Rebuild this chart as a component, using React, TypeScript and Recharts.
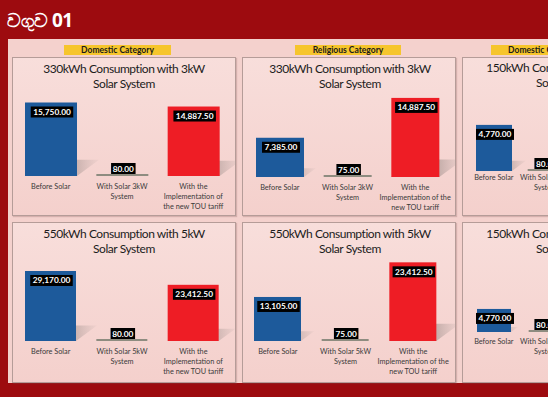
import React from 'react';
import { BarChart, Bar, XAxis, YAxis, Cell, LabelList } from 'recharts';

// ---------- data ----------
const domestic3kWLabels = ['Before Solar', 'With Solar 3kW\nSystem', 'With the\nImplementation of\nthe new TOU tariff'];
const religious3kWLabels = ['Before Solar', 'With Solar 3kW\nSystem', 'With the\nImplementation of the\nnew TOU tariff'];
const domestic5kWLabels = ['Before Solar', 'With Solar 5kW\nSystem', 'With the\nImplementation of\nthe new TOU tariff'];
const religious5kWLabels = ['Before Solar', 'With Solar 5kW\nSystem', 'With the\nImplementation of the\nnew TOU tariff'];
const domestic150Labels = ['Before Solar', 'With Solar 1kW\nSystem', 'With the\nImplementation of\nthe new TOU tariff'];

const domestic330Values = [15750, 80, 14887.5];
const religious330Values = [7385, 75, 14887.5];
const domestic550Values = [29170, 80, 23412.5];
const religious550Values = [13105, 75, 23412.5];
const domestic150TopValues = [4770, 80, null];
const domestic150BottomValues = [4770, 80, null];

const barColors = ['#1d5a9b', '#8e8c80', '#ee1d25'];

const headerText = 'වගුව 01';
const categoryTags = [
  { text: 'Domestic Category', left: 64, width: 107 },
  { text: 'Religious Category', left: 295, width: 106 },
  { text: 'Domestic Category', left: 491, width: 107 },
];

const fmt = (v: number) =>
  v.toLocaleString('en-US', { minimumFractionDigits: 2, maximumFractionDigits: 2 });

// ---------- shapes ----------
const ShadowBar = (props: any) => {
  const { x, y, width, height, fill } = props;
  if (height == null || isNaN(height) || x == null) return null;
  const bottom = y + height;
  const h = Math.max(height, 2);
  const top = bottom - h;
  const sh = h * 0.22;
  const dx = h * 0.3;
  return (
    <g>
      {h > 4 && (
        <polygon
          points={`${x},${bottom} ${x + width},${bottom} ${x + width + dx},${bottom - sh} ${x + dx},${bottom - sh}`}
          fill="url(#shadowGrad)"
        />
      )}
      <rect x={x} y={top} width={width} height={h} fill={fill} />
    </g>
  );
};

const BoxLabel = (props: any) => {
  const { x, y, width, height, value } = props;
  if (value == null || x == null) return null;
  const text = fmt(Number(value));
  const bw = text.length * 4.5 + 2;
  const bh = 11;
  const bottom = y + height;
  const cx = x + width / 2 + 1;
  const boxTop = height > 20 ? bottom - height + 4 : bottom - 2 - bh;
  return (
    <g>
      <rect x={cx - bw / 2} y={boxTop} width={bw} height={bh} fill="#000" />
      <text
        x={cx}
        y={boxTop + bh / 2 + 3}
        textAnchor="middle"
        fill="#fff"
        fontSize={8.3}
        fontWeight={700}
        fontFamily="Lato, sans-serif"
      >
        {text}
      </text>
    </g>
  );
};

const makeTick = (firstDy: number) => (props: any) => {
  const { x, y, payload } = props;
  const lines = String(payload.value).split('\n');
  return (
    <text
      x={x}
      y={y}
      textAnchor="middle"
      fill="#3a3a3a"
      fontSize={7.3}
      fontFamily="Lato, sans-serif"
    >
      {lines.map((l, i) => (
        <tspan key={i} x={x} dy={i === 0 ? firstDy : 10}>
          {l}
        </tspan>
      ))}
    </text>
  );
};

// ---------- panel ----------
type PanelProps = {
  left: number;
  top: number;
  width: number;
  height: number;
  title: string[];
  labels: string[];
  values: (number | null)[];
  domainMax: number;
  margin: { top: number; left: number; right: number };
  xAxisHeight: number;
  barSize: number;
  titleTop: number;
  titleCenter: number;
  tickDy: number;
};

const Panel = (p: PanelProps) => {
  const data = p.labels.map((label, i) => ({ label, value: p.values[i] }));
  const Tick = makeTick(p.tickDy);
  return (
    <div
      style={{
        position: 'absolute',
        left: p.left,
        top: p.top,
        width: p.width,
        height: p.height,
        boxSizing: 'border-box',
        border: '1px solid #b59c98',
        background: 'linear-gradient(#f8dedb, #f4d0cc)',
        boxShadow: '1px 1px 1px rgba(120,80,80,0.25)',
      }}
    >
      <div
        style={{
          position: 'absolute',
          left: p.titleCenter - 120,
          width: 240,
          top: p.titleTop,
          textAlign: 'center',
          fontFamily: 'Lato, sans-serif',
          fontSize: 12,
          letterSpacing: -0.45,
          lineHeight: '15px',
          color: '#1c1c1c',
        }}
      >
        {p.title.map((t, i) => (
          <div key={i}>{t}</div>
        ))}
      </div>
      <div style={{ position: 'absolute', left: -1, top: -1 }}>
        <BarChart
          width={p.width}
          height={p.height}
          data={data}
          margin={{ top: p.margin.top, left: p.margin.left, right: p.margin.right, bottom: 0 }}
        >
          <defs>
            <linearGradient id="shadowGrad" x1="0" y1="0" x2="1" y2="0">
              <stop offset="0.45" stopColor="#8a7c78" stopOpacity={0.8} />
              <stop offset="1" stopColor="#b8a6a3" stopOpacity={0.1} />
            </linearGradient>
          </defs>
          <XAxis
            dataKey="label"
            interval={0}
            axisLine={false}
            tickLine={false}
            tickSize={0}
            tick={<Tick />}
            height={p.xAxisHeight}
          />
          <YAxis hide domain={[0, p.domainMax]} />
          <Bar dataKey="value" barSize={p.barSize} isAnimationActive={false} shape={<ShadowBar />}>
            {data.map((_, i) => (
              <Cell key={i} fill={barColors[i]} />
            ))}
            <LabelList dataKey="value" content={<BoxLabel />} />
          </Bar>
        </BarChart>
      </div>
    </div>
  );
};

export default function App() {
  return (
    <div
      style={{
        position: 'absolute',
        left: 0,
        top: 0,
        width: 548,
        height: 397,
        overflow: 'hidden',
        background: '#9d0b0f',
        fontFamily: 'Lato, sans-serif',
      }}
    >
      <div
        style={{
          position: 'absolute',
          left: 7,
          top: 7,
          color: '#fff',
          fontSize: 19,
          fontWeight: 700,
          letterSpacing: -0.5,
          fontFamily: '"Noto Sans", Lato, sans-serif',
        }}
      >
        {headerText}
      </div>
      <div
        style={{
          position: 'absolute',
          left: 8,
          top: 39,
          width: 560,
          height: 344,
          background: '#f4d1cd',
        }}
      />
      {categoryTags.map((c, i) => (
        <div
          key={i}
          style={{
            position: 'absolute',
            left: c.left,
            top: 45,
            width: c.width,
            height: 10,
            background: '#f6c52c',
            color: '#1a1a1a',
            fontSize: 8.5,
            fontWeight: 700,
            lineHeight: '10px',
            textAlign: 'center',
            whiteSpace: 'nowrap',
          }}
        >
          {c.text}
        </div>
      ))}
      <Panel
        left={12}
        top={57}
        width={224}
        height={159}
        title={['330kWh Consumption with 3kW', 'Solar System']}
        labels={domestic3kWLabels}
        values={domestic330Values}
        domainMax={18000}
        margin={{ top: 35, left: 3, right: 7 }}
        xAxisHeight={40}
        barSize={52}
        titleTop={3}
        titleCenter={111}
        tickDy={11}
      />
      <Panel
        left={242}
        top={57}
        width={214}
        height={159}
        title={['330kWh Consumption with 3kW', 'Solar System']}
        labels={religious3kWLabels}
        values={religious330Values}
        domainMax={16000}
        margin={{ top: 35, left: 4, right: 7 }}
        xAxisHeight={39}
        barSize={48}
        titleTop={3}
        titleCenter={107}
        tickDy={11}
      />
      <Panel
        left={462}
        top={57}
        width={207}
        height={159}
        title={['150kWh Consumption with 1kW', 'Solar System']}
        labels={domestic150Labels}
        values={domestic150TopValues}
        domainMax={9000}
        margin={{ top: 27, left: 6, right: 46 }}
        xAxisHeight={45}
        barSize={36}
        titleTop={2}
        titleCenter={104}
        tickDy={7}
      />
      <Panel
        left={12}
        top={222}
        width={224}
        height={161}
        title={['550kWh Consumption with 5kW', 'Solar System']}
        labels={domestic5kWLabels}
        values={domestic550Values}
        domainMax={35000}
        margin={{ top: 35, left: 3, right: 7 }}
        xAxisHeight={42}
        barSize={51}
        titleTop={3}
        titleCenter={111}
        tickDy={11}
      />
      <Panel
        left={242}
        top={222}
        width={214}
        height={161}
        title={['550kWh Consumption with 5kW', 'Solar System']}
        labels={religious5kWLabels}
        values={religious550Values}
        domainMax={25000}
        margin={{ top: 35, left: 2, right: 9 }}
        xAxisHeight={42}
        barSize={47}
        titleTop={3}
        titleCenter={107}
        tickDy={11}
      />
      <Panel
        left={462}
        top={222}
        width={207}
        height={161}
        title={['150kWh Consumption with 1kW', 'Solar System']}
        labels={domestic150Labels}
        values={domestic150BottomValues}
        domainMax={18000}
        margin={{ top: 23, left: 6, right: 46 }}
        xAxisHeight={51}
        barSize={34}
        titleTop={3}
        titleCenter={104}
        tickDy={10}
      />
    </div>
  );
}
